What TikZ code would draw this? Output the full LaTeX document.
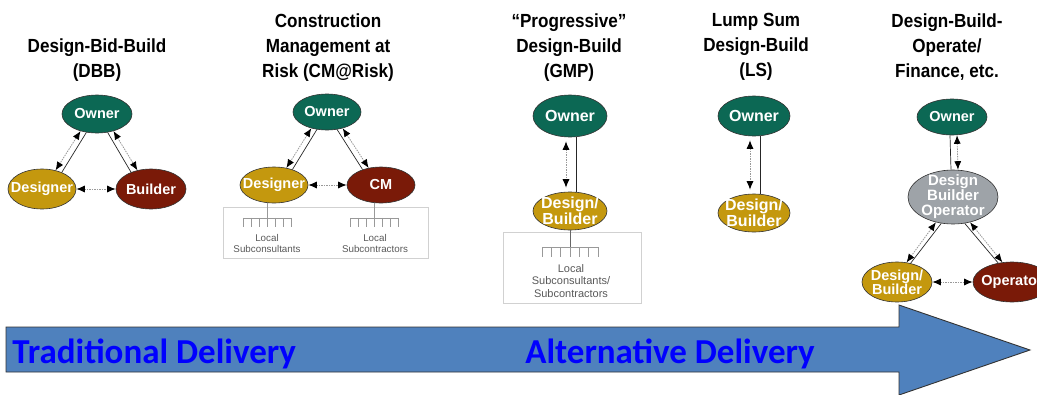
\documentclass[tikz,border=0pt]{standalone}
\usepackage{fontspec}
\setmainfont{Liberation Sans}
\newfontfamily\headfont[FakeStretch=0.9]{Liberation Sans}
\newfontfamily\barfont{Carlito}
\usetikzlibrary{arrows.meta,shapes.geometric,calc}
\definecolor{ownergreen}{RGB}{12,104,84}
\definecolor{designgold}{RGB}{196,152,14}
\definecolor{buildred}{RGB}{122,26,8}
\definecolor{dbogray}{RGB}{158,163,168}
\definecolor{arrowblue}{RGB}{79,129,189}
\definecolor{textblue}{RGB}{0,0,255}
\tikzset{every picture/.style={line width=0.75pt}}
\tikzset{
  pshape/.style={ellipse, draw=black!80, line width=0.6pt, inner sep=0pt, minimum width=68pt, minimum height=38pt},
  party/.style={pshape, label={[ptext]center:#1}},
  partyL/.style={pshape, label={[ptext, ptextL]center:#1}},
  ptext/.style={text=white, align=center, inner sep=0pt, font=\bfseries\fontsize{14.5}{14}\selectfont},
  ptextL/.style={font=\bfseries\fontsize{16}{13.5}\selectfont},
  heading/.style={anchor=north, align=center, inner sep=0pt, font=\headfont\bfseries\fontsize{19}{25}\selectfont},
  comm/.style={draw=black!40, dash pattern=on 1.5pt off 1pt, line width=0.8pt, {Latex[length=8.5pt,width=7pt,color=black]}-{Latex[length=8.5pt,width=7pt,color=black]}},
  tie/.style={draw=black!85, line width=0.7pt},
  subline/.style={draw=black!40, line width=0.6pt},
  subbox/.style={draw=black!18, line width=0.6pt},
  sublabel/.style={align=center, inner sep=0pt, text=black!65, font=\fontsize{9.8}{11}\selectfont},
  bigarrow/.style={fill=arrowblue, draw=black!80, line width=0.9pt},
  bartext/.style={anchor=base west, inner sep=0pt, text=textblue, font=\barfont\bfseries\fontsize{35}{35}\selectfont}
}

\begin{document}
\begin{tikzpicture}[x=1pt,y=-1pt]
    % 画布范围
    \useasboundingbox (0,0) rectangle (1037,394);
    \clip (0,0) rectangle (1037,394);

    % 底部大箭头
    \draw[bigarrow] (6,327) -- (899,327) -- (899,305) -- (1030,350) -- (899,395) -- (899,372) -- (6,372) -- cycle;
    \node[bartext] (trad) at (12,363) {Traditional Delivery};
    \node[bartext] (alt) at (525,363) {Alternative Delivery};

    % 标题
    \node[heading] (hdbb) at (97,38) {Design-Bid-Build\\(DBB)};
    \node[heading] (hcm) at (328,13) {Construction\\Management at\\Risk (CM@Risk)};
    \node[heading] (hgmp) at (569,13) {“Progressive”\\Design-Build\\(GMP)};
    \node[heading] (hls) at (756,13) {Lump Sum\\Design-Build\\(LS)};
    \node[heading] (hdbo) at (947,13) {Design-Build-\\Operate/\\Finance, etc.};

    % DBB
    \node[party=Owner, fill=ownergreen, minimum width=70pt] (own1) at (97,114) {};
    \node[party=Designer, fill=designgold, minimum height=40pt] (dsg1) at (42,189) {};
    \node[party=Builder, fill=buildred, minimum width=70pt, minimum height=40pt] (bld1) at (151,189) {};
    \draw[comm] (own1.226) -- (dsg1.54);
    \draw[tie] (own1.240) -- (dsg1.40);
    \draw[tie] (own1.300) -- (bld1.140);
    \draw[comm] (own1.314) -- (bld1.126);
    \draw[comm] (dsg1) -- (bld1);

    % CM@Risk
    \node[party=Owner, fill=ownergreen, minimum height=36pt] (own2) at (327,112) {};
    \node[party=Designer, fill=designgold, minimum height=36pt] (dsg2) at (274,185) {};
    \node[party=CM, fill=buildred, minimum height=36pt] (cm2) at (381,185) {};
    \draw[comm] (own2.226) -- (dsg2.54);
    \draw[tie] (own2.240) -- (dsg2.40);
    \draw[tie] (own2.300) -- (cm2.140);
    \draw[comm] (own2.314) -- (cm2.126);
    \draw[comm] (dsg2) -- (cm2);

    % 分包
    \draw[subbox] (223,207) rectangle (428,258);
    \path (dsg2.250) ++(0,15) coordinate (t1);
    \path (cm2.250) ++(0,15) coordinate (t2);
    \draw[subline] (dsg2.250) -- (t1) ([xshift=-24pt]t1) -- ([xshift=24pt]t1);
    \draw[subline] (cm2.250) -- (t2) ([xshift=-24pt]t2) -- ([xshift=24pt]t2);
    \foreach \dx in {-24,-16,...,24} {
        \draw[subline] ([xshift=\dx pt]t1) -- ++(0,9);
        \draw[subline] ([xshift=\dx pt]t2) -- ++(0,9);
    }
    \node[sublabel] (lsub1) at (267,243) {Local\\Subconsultants};
    \node[sublabel] (lsub2) at (375,243) {Local\\Subcontractors};

    % Progressive DB
    \node[partyL=Owner, fill=ownergreen, minimum width=74pt, minimum height=42pt] (own3) at (570,116) {};
    \node[partyL={Design/\\Builder}, fill=designgold, minimum width=74pt] (db3) at (570,211) {};
    \draw[comm, shorten <=4pt, shorten >=4pt] ([xshift=-4pt]own3.south) -- ([xshift=-4pt]db3.north);
    \draw[tie] ([xshift=6pt]own3.south) -- ([xshift=6pt]db3.north);
    \draw[subbox] (503,232) rectangle (641,303);
    \path (db3.south) ++(0,17) coordinate (t3);
    \draw[subline, draw=black!60] (db3.south) -- ++(0,27);
    \draw[subline] ([xshift=-28pt]t3) -- ([xshift=28pt]t3);
    \foreach \i in {-3,...,3}
        \draw[subline] ([xshift=\i*9.33pt]t3) -- ++(0,10);
    \node[sublabel, font=\fontsize{11}{12.5}\selectfont] (lsub3) at (571,281) {Local\\Subconsultants/\\Subcontractors};

    % Lump Sum DB
    \node[partyL=Owner, fill=ownergreen, minimum width=72pt, minimum height=40pt] (own4) at (754,116) {};
    \node[partyL={Design/\\Builder}, fill=designgold, minimum width=72pt] (db4) at (754,213) {};
    \draw[comm, shorten <=4pt, shorten >=4pt] ([xshift=-4pt]own4.south) -- ([xshift=-4pt]db4.north);
    \draw[tie] ([xshift=6pt]own4.south) -- ([xshift=6pt]db4.north);

    % DBO / Finance
    \node[party=Owner, fill=ownergreen, minimum width=70pt, minimum height=36pt] (own5) at (952,117) {};
    \node[pshape, fill=dbogray, minimum width=90pt, minimum height=54pt,
          label={[ptext, font=\bfseries\fontsize{15}{15}\selectfont]center:Design\\Builder\\Operator}] (dbo5) at (953,197) {};
    \node[party={Design/\\Builder}, fill=designgold, minimum width=70pt, minimum height=40pt] (db5) at (897,282) {};
    \node[party=Operator, fill=buildred, minimum width=78pt, minimum height=40pt] (op5) at (1012,282) {};
    \draw[tie] ([xshift=-2pt]own5.south) -- ([xshift=-2pt]dbo5.north);
    \draw[comm] ([xshift=5pt]own5.south) -- ([xshift=5pt]dbo5.north);
    \draw[comm] (dbo5.236) -- (db5.64);
    \draw[tie] (dbo5.246) -- (db5.54);
    \draw[tie] (dbo5.294) -- (op5.126);
    \draw[comm] (dbo5.304) -- (op5.116);
    \draw[comm] (db5) -- (op5);
\end{tikzpicture}
\end{document}
